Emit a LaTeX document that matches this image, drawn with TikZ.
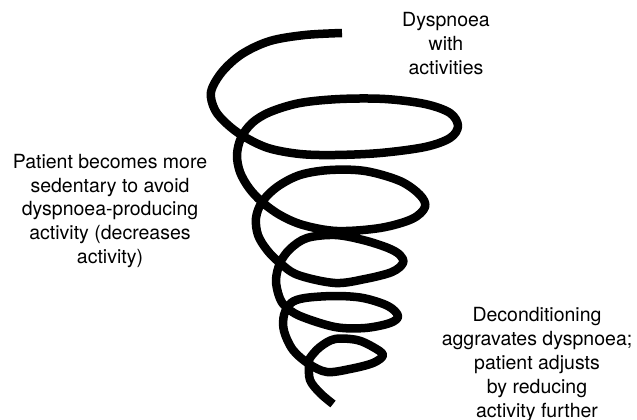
\documentclass[tikz,border=0pt]{standalone}
\usepackage{fontspec}
\setmainfont{TeX Gyre Heros}
\begin{document}
\begin{tikzpicture}[x=1pt,y=-1pt]
\tikzset{
  caption/.style={font=\fontsize{19.5}{23.8}\selectfont, align=center, inner sep=0pt, text=black},
  spiralline/.style={line width=8.5pt, line join=round, black}
}
\useasboundingbox[fill=white] (0,0) rectangle (637,420);
\draw[spiralline] plot[smooth, tension=0.55] coordinates {
(342,33) (305,35) (270,41) (242,54) (222,72) (211,92) (215,110) (227,124)
(243,136) (268,148) (300,154) (335,155) (380,153) (425,147) (450,138) (458,126)
(450,113) (425,104) (385,99) (340,99) (300,103) (270,112) (252,123) (241,138)
(237,155) (240,172) (249,188) (262,202) (280,215) (303,225) (337,231) (380,228)
(412,219) (425,207) (420,195) (400,181) (365,171) (330,170) (300,175) (277,187)
(262,202) (256,218) (258,235) (267,250) (280,263) (298,275) (335,283) (365,279)
(392,272) (403,263) (400,255) (388,248) (363,240) (335,235) (307,238) (290,249)
(280,263) (276,280) (279,296) (285,306) (300,316) (335,327) (365,328) (390,323)
(398,316) (388,306) (363,298) (335,296) (305,298) (291,303) (284,315) (284,331)
(293,350) (309,364) (327,372) (350,369) (373,363) (383,355) (373,347) (357,340)
(335,339) (320,347) (310,358) (309,364) (310,380) (320,393) (333,404)
};
\node[caption] (dysp) at (446,43.5) {Dyspnoea\\with\\activities};
\node[caption] (sed) at (110,211) {Patient becomes more\\sedentary to avoid\\dyspnoea-producing\\activity (decreases\\activity)};
\node[caption] (decon) at (537,364.5) {Deconditioning\\aggravates dyspnoea;\\patient adjusts\\by reducing\\activity further};
\end{tikzpicture}
\end{document}
